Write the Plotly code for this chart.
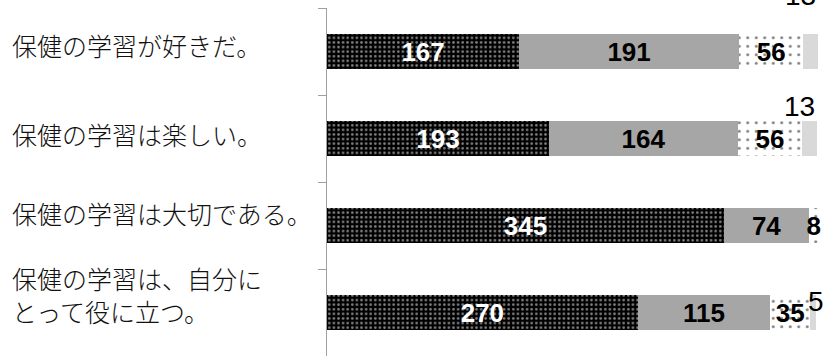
import plotly.graph_objects as go

categories = [
    "保健の学習が好きだ。",
    "保健の学習は楽しい。",
    "保健の学習は大切である。",
    "保健の学習は、自分に<br>とって役に立つ。",
]
s1 = [167, 193, 345, 270]
s2 = [191, 164, 74, 115]
s3 = [56, 56, 8, 35]
s4 = [13, 13, 0, 5]

# styling (offsets for the manually placed labels)
cat_yshift = [7, 5, 13, 18]
s4_xanchor = ["right", "right", "right", "center"]
s4_yshift = [56, 32, 0, 11]

num_font = dict(family="Liberation Sans, Arial", size=26)

fig = go.Figure()
fig.add_bar(
    y=categories, x=s1, orientation="h", name="s1",
    marker=dict(color="black", line=dict(width=0),
                pattern=dict(shape=".", fgcolor="white", bgcolor="black",
                             size=4.6, solidity=0.26, fillmode="overlay")),
    text=[str(v) for v in s1], textposition="inside", insidetextanchor="middle",
    textangle=0,
    textfont=dict(color="white", weight="bold", **num_font),
)
fig.add_bar(
    y=categories, x=s2, orientation="h", name="s2",
    marker=dict(color="#a6a6a6", line=dict(width=0)),
    text=[str(v) for v in s2], textposition="inside", insidetextanchor="middle",
    textangle=0,
    textfont=dict(color="black", weight="bold", **num_font),
)
fig.add_bar(
    y=categories, x=s3, orientation="h", name="s3",
    marker=dict(color="white", line=dict(width=0),
                pattern=dict(shape=".", fgcolor="black", bgcolor="white",
                             size=8.5, solidity=0.1, fillmode="overlay")),
    text=[str(v) for v in s3], textposition="inside", insidetextanchor="middle",
    textangle=0,
    textfont=dict(color="black", weight="bold", **num_font),
)
fig.add_bar(
    y=categories, x=s4, orientation="h", name="s4",
    marker=dict(color="#d9d9d9", line=dict(width=0)),
)

# labels for the last series, placed above the bar end
for i, cat in enumerate(categories):
    if s4[i] > 0:
        total = s1[i] + s2[i] + s3[i] + s4[i]
        fig.add_annotation(
            x=total, y=cat, xref="x", yref="y", text=str(s4[i]),
            showarrow=False, xanchor=s4_xanchor[i], yanchor="middle",
            yshift=s4_yshift[i],
            font=dict(color="black", family="Liberation Sans, Arial", size=28),
        )

# category labels, left aligned at the left edge
for i, cat in enumerate(categories):
    fig.add_annotation(
        x=0, xref="paper", xanchor="left", xshift=-317,
        y=cat, yref="y", yanchor="middle", yshift=cat_yshift[i],
        text=cat, showarrow=False, align="left",
        font=dict(family="Noto Sans CJK JP", size=25, color="#111111",
                  weight=300),
    )

fig.update_layout(
    barmode="stack",
    bargap=0.6,
    width=823, height=356,
    margin=dict(l=327, r=0, t=8, b=0),
    paper_bgcolor="white", plot_bgcolor="white",
    showlegend=False,
    uniformtext=dict(minsize=26, mode="show"),
)
fig.update_xaxes(range=[0, 431], visible=False)
fig.update_yaxes(
    range=[3.5, -0.5], autorange=False, showticklabels=False,
    showline=True, linecolor="#a0a0a0", linewidth=1,
    ticks="outside", ticklen=8, tickcolor="#a0a0a0", tickson="boundaries",
    showgrid=False, zeroline=False,
)

fig.write_html("out.html")
